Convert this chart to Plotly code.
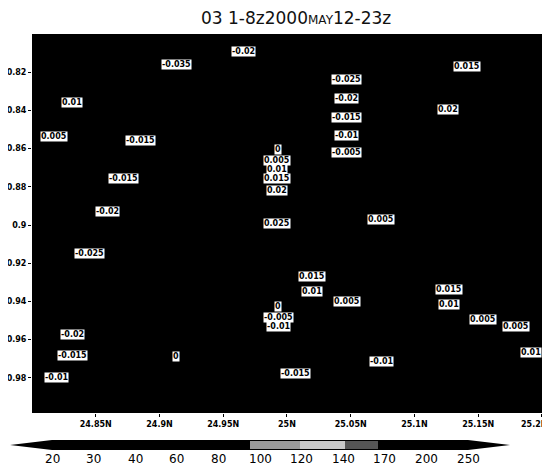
import plotly.graph_objects as go

# ---- data ----
label_text = ["-0.02", "-0.035", "0.015", "-0.025", "0.01", "-0.02", "0.02", "-0.015",
              "0.005", "-0.015", "-0.01", "-0.005", "0", "0.005", "0.01", "0.015", "0.02",
              "-0.015", "-0.02", "0.025", "0.005", "-0.025", "0.015", "0.01", "0.005",
              "0.015", "0.01", "0.005", "0.005", "0", "-0.005", "-0.01", "-0.02", "-0.015",
              "0", "-0.01", "0.01", "-0.015", "-0.01"]
label_lat = [24.966, 24.913, 25.141, 25.047, 24.831, 25.047, 25.126, 25.047,
             24.817, 24.885, 25.047, 25.047, 24.993, 24.992, 24.992, 24.992, 24.992,
             24.872, 24.859, 24.992, 25.074, 24.845, 25.020, 25.020, 25.047,
             25.127, 25.127, 25.154, 25.180, 24.993, 24.993, 24.993, 24.832, 24.832,
             24.913, 25.074, 25.2, 25.007, 24.819]
label_lev = [0.8089, 0.8162, 0.8168, 0.8236, 0.8356, 0.8340, 0.8393, 0.8435,
             0.8539, 0.8555, 0.8534, 0.8618, 0.8607, 0.8660, 0.8712, 0.8759, 0.8817,
             0.8759, 0.8927, 0.8990, 0.8969, 0.9147, 0.9272, 0.9346, 0.9403,
             0.9340, 0.9414, 0.9497, 0.9529, 0.9429, 0.9482, 0.9534, 0.9571, 0.9681,
             0.9686, 0.9717, 0.9665, 0.9775, 0.9796]

x_tickvals = [24.85, 24.9, 24.95, 25.0, 25.05, 25.1, 25.15, 25.2]
x_ticktext = ["24.85N", "24.9N", "24.95N", "25N", "25.05N", "25.1N", "25.15N", "25.2N"]
y_tickvals = [0.82, 0.84, 0.86, 0.88, 0.9, 0.92, 0.94, 0.96, 0.98]
y_ticktext = ["0.82", "0.84", "0.86", "0.88", "0.9", "0.92", "0.94", "0.96", "0.98"]

cbar_labels = ["20", "30", "40", "60", "80", "100", "120", "140", "170", "200", "250"]

title_text = "03 1-8z2000<span style='font-size:12px'>MAY</span>12-23z"

# ---- geometry (page body has an 8px margin, so design in shifted pixels) ----
OFF = 8
W, H = 550, 465
ml, mt = 32 - OFF, 34 - OFF
pw, ph = 510, 379
mr = W - ml - pw
mb = H - mt - ph


def px2paper(px, py):
    fx, fy = px - OFF, py - OFF
    return (fx - ml) / pw, (H - mb - fy) / ph


tick_font = dict(family="DejaVu Sans", size=8, color="black", weight="bold")

# ---- figure ----
fig = go.Figure()
fig.add_trace(go.Scatter(x=label_lat, y=label_lev, mode="markers",
                         marker=dict(size=1, color="black"), hoverinfo="skip",
                         showlegend=False))

for t, xv, yv in zip(label_text, label_lat, label_lev):
    anchor = "right" if xv >= 25.2 else "center"
    fig.add_annotation(x=xv, y=yv, text=t, showarrow=False, xanchor=anchor, yanchor="middle",
                       bgcolor="white", borderpad=0,
                       font=dict(family="DejaVu Sans", size=8, color="black", weight="bold"))

# title
tx, ty = px2paper(296, 18)
fig.add_annotation(x=tx, y=ty, xref="paper", yref="paper", text=title_text,
                   showarrow=False, xanchor="center", yanchor="middle",
                   font=dict(family="DejaVu Sans", size=17, color="#111"))

# last x tick label sits at the window edge: draw it right-aligned so it stays whole
lx_last, ly_last = px2paper(549, 424)
fig.add_annotation(x=lx_last, y=ly_last, xref="paper", yref="paper", text=x_ticktext[-1],
                   showarrow=False, xanchor="right", yanchor="middle", font=tick_font)
x_ticktext_axis = x_ticktext[:-1] + [""]

# colorbar
left_tip, right_tip = 10, 510
cb_y, cb_h = 445, 10
first_b, step = 52, 41.6
n = len(cbar_labels)
x0, yc = px2paper(left_tip, cb_y)
xa, ya_top = px2paper(first_b, cb_y - cb_h / 2)
xb, ya_bot = px2paper(first_b + step * (n - 1), cb_y + cb_h / 2)
x1, _ = px2paper(right_tip, cb_y)
path = (f"M {x0} {yc} L {xa} {ya_top} L {xb} {ya_top} L {x1} {yc} "
        f"L {xb} {ya_bot} L {xa} {ya_bot} Z")
fig.add_shape(type="path", path=path, xref="paper", yref="paper",
              fillcolor="black", line=dict(width=0))
for (a, b, c) in [(250, 300, "#9a9a9a"), (300, 345, "#c8c8c8"), (345, 378, "#555555")]:
    pa, pt = px2paper(a, cb_y - cb_h / 2 + 1)
    pb, pbt = px2paper(b, cb_y + cb_h / 2 - 1)
    fig.add_shape(type="rect", xref="paper", yref="paper", x0=pa, x1=pb, y0=pbt, y1=pt,
                  fillcolor=c, line=dict(width=0))

for i, lab in enumerate(cbar_labels):
    lx, ly = px2paper(first_b + step * i, 459)
    fig.add_annotation(x=lx, y=ly, xref="paper", yref="paper", text=lab, showarrow=False,
                       xanchor="center", yanchor="middle",
                       font=dict(family="DejaVu Sans", size=12, color="black"))

fig.update_xaxes(range=[24.8, 25.2001], tickvals=x_tickvals, ticktext=x_ticktext_axis,
                 ticks="outside", ticklen=3, tickcolor="black", showgrid=False,
                 zeroline=False, showline=False, automargin=False, tickfont=tick_font)
fig.update_yaxes(range=[0.8 + ph / 1910, 0.8], tickvals=y_tickvals, ticktext=y_ticktext,
                 ticks="outside", ticklen=3, tickcolor="black", showgrid=False,
                 zeroline=False, showline=False, automargin=False, tickfont=tick_font)

fig.update_layout(width=W, height=H, margin=dict(l=ml, r=mr, t=mt, b=mb, autoexpand=False),
                  paper_bgcolor="white", plot_bgcolor="black", showlegend=False)

fig.write_html("out.html")
